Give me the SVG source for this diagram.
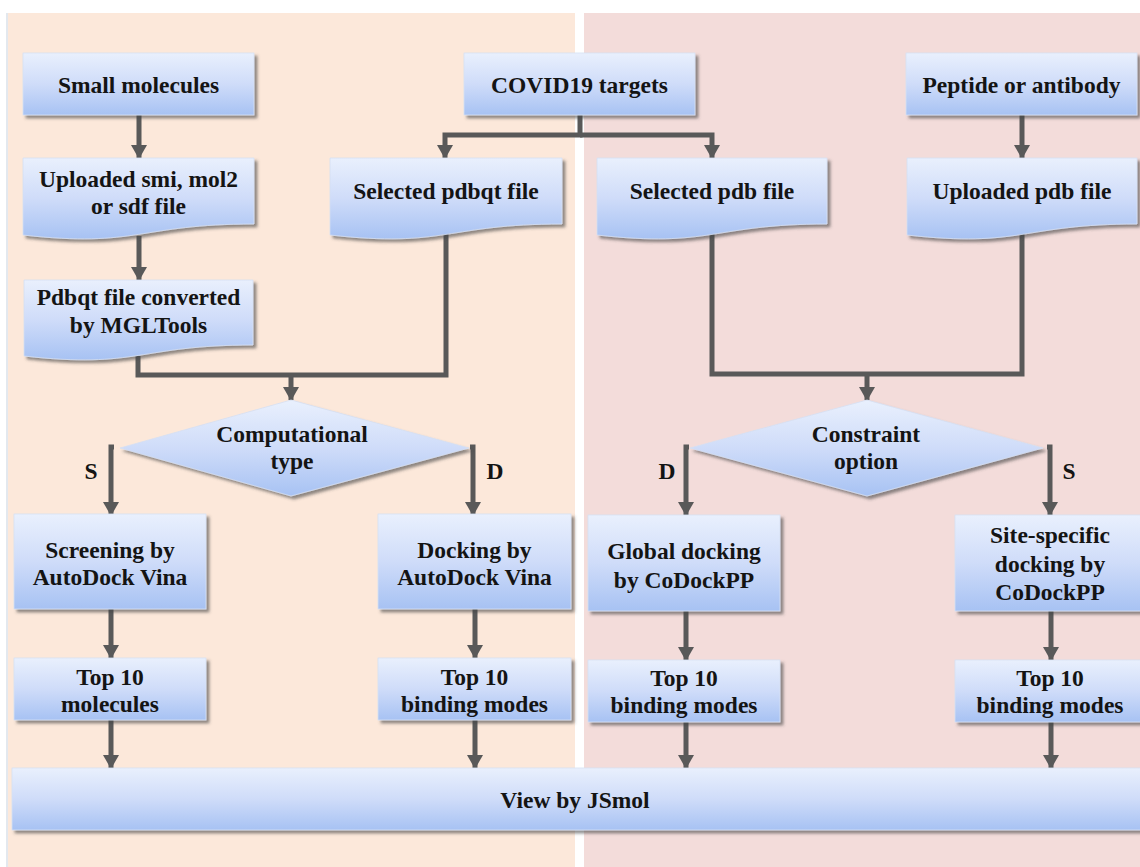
<svg xmlns="http://www.w3.org/2000/svg" width="1140" height="867" viewBox="0 0 1140 867">
<defs>
<linearGradient id="g" x1="0" y1="0" x2="0" y2="1">
<stop offset="0" stop-color="#e9f0fd"/>
<stop offset="0.5" stop-color="#cfdcf9"/>
<stop offset="1" stop-color="#a7c2f3"/>
</linearGradient>
<filter id="sh" x="-5%" y="-10%" width="115%" height="130%">
<feDropShadow dx="3" dy="3" stdDeviation="1.8" flood-color="#444" flood-opacity="0.6"/>
</filter>
<marker id="ah" markerUnits="userSpaceOnUse" markerWidth="14" markerHeight="16" refX="13" refY="8" orient="auto" viewBox="0 0 14 16">
<path d="M0,0 L14,8 L0,16 Z" fill="#595959"/>
</marker>
</defs>
<style>
.n{fill:url(#g);stroke:#d6e0f2;stroke-width:0.8;filter:url(#sh)}
.t{font-family:"Liberation Serif","Times New Roman",serif;font-weight:bold;font-size:23.5px;fill:#141414;text-anchor:middle}
.c{fill:none;stroke:#595959;stroke-width:5}
.a{marker-end:url(#ah)}
</style>
<rect x="0" y="0" width="1140" height="867" fill="#ffffff"/>
<rect x="6" y="13" width="2" height="854" fill="#e3e8ee"/>
<rect x="8" y="13" width="567" height="854" fill="#fce8da"/>
<rect x="584" y="13" width="556" height="854" fill="#f3dcda"/>

<g id="connectors">
<path class="c a" d="M139,115 V158"/>
<path class="c a" d="M139,236 V280"/>
<path class="c a" d="M580,115 V135 H445 V158"/>
<path class="c a" d="M580,135 H712 V158"/>
<path class="c a" d="M1022,115 V158"/>
<path class="c" d="M138,356 V375 H446 V230"/>
<path class="c a" d="M291,375 V400"/>
<path class="c" d="M712,228 V374 H1022 V232"/>
<path class="c a" d="M867,374 V400"/>
<path class="c a" d="M114,447 H111 V515"/>
<path class="c a" d="M470,447 H473 V515"/>
<path class="c a" d="M689,447 H686 V515"/>
<path class="c a" d="M1047,447 H1050 V515"/>
<path class="c a" d="M111,609 V658"/>
<path class="c a" d="M111,720 V768"/>
<path class="c a" d="M475,609 V658"/>
<path class="c a" d="M475,720 V768"/>
<path class="c a" d="M686,611 V660"/>
<path class="c a" d="M686,722 V768"/>
<path class="c a" d="M1051,611 V660"/>
<path class="c a" d="M1051,722 V768"/>
</g>

<g id="small-molecules">
<rect class="n" x="23" y="53" width="231" height="62"/>
<text class="t" x="138.5" y="93">Small molecules</text>
</g>
<g id="covid19-targets">
<rect class="n" x="464" y="53" width="231" height="62"/>
<text class="t" x="579.5" y="93">COVID19 targets</text>
</g>
<g id="peptide-antibody">
<rect class="n" x="906" y="53" width="231" height="62"/>
<text class="t" x="1021.5" y="93">Peptide or antibody</text>
</g>

<g id="uploaded-smi">
<path class="n" d="M23,158 H254 V224 C138.5,224 138.5,248 23,235 Z"/>
<text class="t" x="138.5" y="187">Uploaded smi, mol2</text>
<text class="t" x="138.5" y="214">or sdf file</text>
</g>
<g id="selected-pdbqt">
<path class="n" d="M330,158 H562 V224 C446,224 446,248 330,235 Z"/>
<text class="t" x="446" y="199">Selected pdbqt file</text>
</g>
<g id="selected-pdb">
<path class="n" d="M597,158 H827 V224 C712,224 712,248 597,235 Z"/>
<text class="t" x="712" y="199">Selected pdb file</text>
</g>
<g id="uploaded-pdb">
<path class="n" d="M907,158 H1137 V224 C1022,224 1022,248 907,235 Z"/>
<text class="t" x="1022" y="199">Uploaded pdb file</text>
</g>
<g id="pdbqt-converted">
<path class="n" d="M24,280 H253 V345 C138.5,345 138.5,369 24,356 Z"/>
<text class="t" x="138.5" y="305">Pdbqt file converted</text>
<text class="t" x="138.5" y="333">by MGLTools</text>
</g>

<g id="computational-type">
<polygon class="n" points="291,400 469,448 291,496 120,448"/>
<text class="t" x="292" y="442">Computational</text>
<text class="t" x="292" y="469">type</text>
</g>
<g id="constraint-option">
<polygon class="n" points="867,400 1043,448 867,496 690,448"/>
<text class="t" x="866" y="442">Constraint</text>
<text class="t" x="866" y="469">option</text>
</g>

<g id="branch-labels">
<text class="t" x="91" y="479">S</text>
<text class="t" x="495" y="479">D</text>
<text class="t" x="667" y="479">D</text>
<text class="t" x="1069" y="479">S</text>
</g>

<g id="screening">
<rect class="n" x="14" y="514" width="192" height="95"/>
<text class="t" x="110" y="558">Screening by</text>
<text class="t" x="110" y="585">AutoDock Vina</text>
</g>
<g id="docking">
<rect class="n" x="378" y="514" width="193" height="95"/>
<text class="t" x="474.5" y="558">Docking by</text>
<text class="t" x="474.5" y="585">AutoDock Vina</text>
</g>
<g id="global-docking">
<rect class="n" x="588" y="515" width="192" height="96"/>
<text class="t" x="684" y="559">Global docking</text>
<text class="t" x="684" y="588">by CoDockPP</text>
</g>
<g id="site-specific">
<rect class="n" x="955" y="515" width="192" height="96"/>
<text class="t" x="1050" y="543">Site-specific</text>
<text class="t" x="1050" y="572">docking by</text>
<text class="t" x="1050" y="600">CoDockPP</text>
</g>

<g id="top10-molecules">
<rect class="n" x="14" y="658" width="192" height="62"/>
<text class="t" x="110" y="685">Top 10</text>
<text class="t" x="110" y="712">molecules</text>
</g>
<g id="top10-binding-vina">
<rect class="n" x="378" y="658" width="193" height="62"/>
<text class="t" x="474.5" y="685">Top 10</text>
<text class="t" x="474.5" y="712">binding modes</text>
</g>
<g id="top10-binding-global">
<rect class="n" x="588" y="660" width="192" height="62"/>
<text class="t" x="684" y="686">Top 10</text>
<text class="t" x="684" y="713">binding modes</text>
</g>
<g id="top10-binding-site">
<rect class="n" x="955" y="660" width="192" height="62"/>
<text class="t" x="1050" y="686">Top 10</text>
<text class="t" x="1050" y="713">binding modes</text>
</g>

<g id="view-jsmol">
<rect class="n" x="12" y="768" width="1135" height="62"/>
<text class="t" x="575" y="808">View by JSmol</text>
</g>
</svg>
